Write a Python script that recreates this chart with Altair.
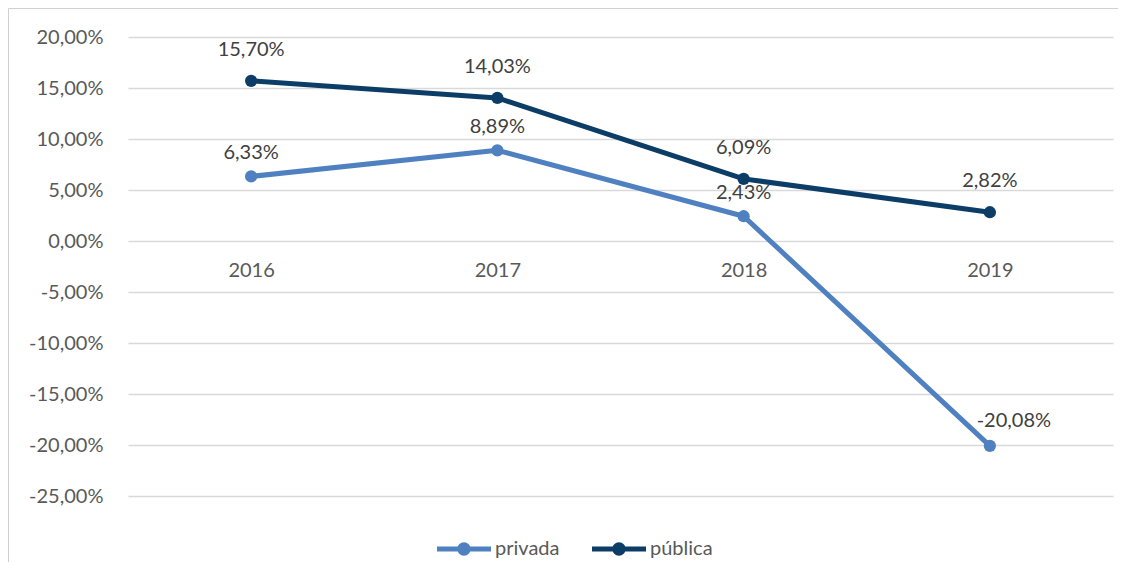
import altair as alt
import pandas as pd

years = ["2016", "2017", "2018", "2019"]
privada = [6.33, 8.89, 2.43, -20.08]
publica = [15.70, 14.03, 6.09, 2.82]
series = ["privada", "pública"]
colors = ["#4F81C1", "#0B3D66"]
y_ticks = [20, 15, 10, 5, 0, -5, -10, -15, -20, -25]

rows = []
for s, vals in zip(series, [privada, publica]):
    for yr, v in zip(years, vals):
        rows.append({"ano": yr, "serie": s, "valor": v,
                     "rotulo": f"{v:.2f}".replace(".", ",") + "%"})
df = pd.DataFrame(rows)

FONT = "Lato"
W, H = 985, 459

x_enc = alt.X("ano:O", scale=alt.Scale(type="point", padding=0.5),
              axis=alt.Axis(title=None, orient="bottom", offset=-255, domain=False,
                            ticks=False, tickSize=0, labelPadding=19, labelAngle=0,
                            labelFontSize=20, labelColor="#595959", labelFont=FONT,
                            grid=False))
y_enc = alt.Y("valor:Q", scale=alt.Scale(domain=[-25, 20], nice=False, zero=False),
              axis=alt.Axis(title=None, values=y_ticks, domain=False, ticks=False,
                            tickSize=0, labelPadding=25,
                            labelExpr="replace(replace(format(datum.value, '.2f'), '.', ','), '\u2212', '-') + '%'",
                            labelFontSize=20, labelColor="#595959", labelFont=FONT,
                            grid=True, gridColor="#D9D9D9", gridWidth=1.3))

color_scale = alt.Scale(domain=series, range=colors)

base = alt.Chart(df)

lines = base.mark_line(strokeWidth=5, strokeCap="round", strokeJoin="round").encode(
    x=x_enc, y=y_enc,
    color=alt.Color("serie:N", scale=color_scale, legend=None),
)

sym = ("M-1.5,-0.14 L1.5,-0.14 L1.5,0.14 L-1.5,0.14 Z "
       "M0.37,0 A0.37,0.37 0 1,1 -0.37,0 A0.37,0.37 0 1,1 0.37,0 Z")

points = base.mark_point(filled=True, size=150, opacity=1).encode(
    x=x_enc, y=y_enc,
    color=alt.Color("serie:N", scale=color_scale,
                    legend=alt.Legend(title=None, orient="none", direction="horizontal",
                                      legendX=318, legendY=494, padding=0,
                                      symbolType=sym, symbolSize=1296,
                                      symbolStrokeWidth=0, symbolOpacity=1,
                                      labelOffset=13, columnPadding=32,
                                      labelFontSize=20, labelColor="#595959",
                                      labelFont=FONT)),
)

lab_priv = base.transform_filter(
    (alt.datum.serie == "privada") & (alt.datum.valor >= 0)).mark_text(
    dy=-23, fontSize=20, font=FONT, color="#404040").encode(x=x_enc, y=y_enc, text="rotulo:N")
lab_neg = base.transform_filter(
    (alt.datum.serie == "privada") & (alt.datum.valor < 0)).mark_text(
    dy=-25, dx=24, fontSize=20, font=FONT, color="#404040").encode(x=x_enc, y=y_enc, text="rotulo:N")
lab_pub = base.transform_filter(alt.datum.serie == "pública").mark_text(
    dy=-31, fontSize=20, font=FONT, color="#404040").encode(x=x_enc, y=y_enc, text="rotulo:N")

border = alt.Chart(pd.DataFrame({"a": [0]})).mark_rect(
    fillOpacity=0, stroke="#D0D0D0", strokeWidth=1).encode(
    x=alt.value(-119.5), x2=alt.value(1200), y=alt.value(-28.5), y2=alt.value(800))

chart = alt.layer(border, lines, points, lab_priv, lab_neg, lab_pub).resolve_scale(
    color="independent").properties(
    width=W, height=H,
    autosize=alt.AutoSizeParams(type="none"),
    padding={"left": 120, "top": 29, "right": 5, "bottom": 66},
).configure_view(stroke=None)

chart.save("out.html", embed_options={"renderer": "svg", "actions": False})
